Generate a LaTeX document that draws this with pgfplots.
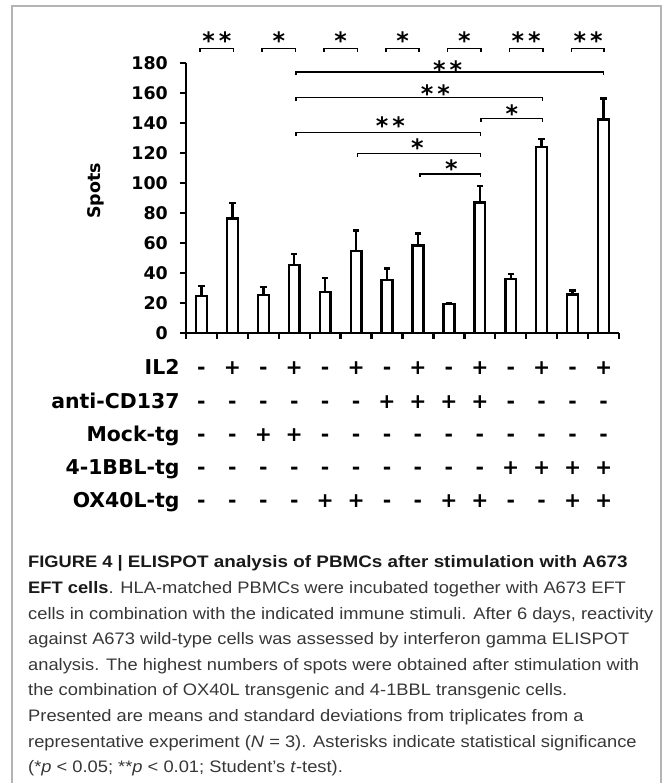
\documentclass[border=0pt]{standalone}
\usepackage{graphicx}
\usepackage{pgfplots}
\pgfplotsset{compat=1.18}
\usepackage{fontspec}
\setmainfont{Liberation Sans}
\newfontfamily\dv{DejaVu Sans}
\newfontfamily\capfont[FakeStretch=1.1]{Liberation Sans}
\definecolor{framegray}{RGB}{180,180,180}
\definecolor{captxt}{RGB}{55,55,55}
\definecolor{capbold}{RGB}{25,25,25}
\newcommand{\tickfont}{\dv\bfseries\fontsize{17.5}{20}\selectfont}
\newcommand{\rowfont}{\dv\bfseries\fontsize{20.5}{24}\selectfont}
\newcommand{\starfont}{\dv\bfseries\fontsize{24}{26}\selectfont}
\newcommand{\cf}{\capfont\fontsize{16.7}{25.6}\selectfont\color{captxt}}
\newcommand{\cb}[1]{{\bfseries\color{capbold}#1}}
\newcommand{\br}[4]{\addplot[black, line width=1.5bp, no marks, forget plot] coordinates {(#1,#4) (#1,#3) (#2,#3) (#2,#4)};}
\newcommand{\st}[3]{\node[font=\starfont, anchor=base, yshift=-13.1bp] at (axis cs:#1,#2) {#3};}

\begin{document}
\begin{tikzpicture}[x=1bp,y=1bp]
\path[use as bounding box] (0,0) rectangle (664,783);
\draw[framegray, line width=1.5bp] (12,-5) -- (12,777) -- (661,777) -- (661,-5);
\begin{axis}[
  at={(186bp,450bp)}, anchor=south west,
  scale only axis, width=433bp, height=270bp,
  xmin=-0.5, xmax=13.5, ymin=0, ymax=180,
  axis x line=bottom, axis y line=left,
  axis line style={-, line width=2.8bp, black},
  every tick/.style={black, line width=2.4bp},
  tick align=outside,
  major tick length=6bp,
  xtick={-0.5,0.5,...,13.5}, xticklabels={},
  ytick={0,20,...,180},
  /pgf/number format/assume math mode=true,
  yticklabel style={font=\tickfont, anchor=east, inner sep=0pt, xshift=-12bp},
  clip=false,
]
\addplot[ybar, bar width=10.8bp, fill=white, draw=black, line width=2.4bp,
  error bars/.cd, y dir=plus, y explicit,
  error bar style={line width=2.4bp, black},
  error mark options={rotate=90, mark size=3.2bp, line width=2.4bp, black}]
  table[x=x, y=y, y error=e] {
x y e
0 24.7 6.8
1 76.2 10.4
2 25.3 5.5
3 45.4 7.2
4 27.5 9.3
5 54.6 13.7
6 35.2 7.8
7 58.4 7.9
8 19.2 0.8
9 87.0 10.8
10 35.9 3.3
11 124.0 5.3
12 25.6 2.6
13 142.4 14.0
};
% top brackets
\br{-0.04}{1.04}{189.6}{187.4}
\br{1.96}{3.04}{189.6}{187.4}
\br{3.96}{5.04}{189.6}{187.4}
\br{5.96}{7.04}{189.6}{187.4}
\br{7.96}{9.04}{189.6}{187.4}
\br{9.96}{11.04}{189.6}{187.4}
\br{11.96}{13.02}{189.6}{187.4}
\st{0.5}{197.8}{*\kern4bp*}
\st{2.5}{197.8}{*}
\st{4.5}{197.8}{*}
\st{6.5}{197.8}{*}
\st{8.5}{197.8}{*}
\st{10.5}{197.8}{*\kern4bp*}
\st{12.5}{197.8}{*\kern4bp*}
% long brackets
\br{3.05}{13.0}{174.0}{171.8}
\st{7.96}{178.2}{*\kern4bp*}
\br{3.05}{11.02}{156.9}{154.7}
\st{7.56}{162.7}{*\kern4bp*}
\br{9.03}{11.02}{142.9}{140.7}
\st{10.04}{149.3}{*}
\br{3.05}{9.02}{133.8}{131.6}
\st{6.11}{141.1}{*\kern4bp*}
\br{5.05}{9.02}{119.6}{117.4}
\st{6.98}{126.2}{*}
\br{7.07}{9.02}{106.0}{103.8}
\st{8.08}{112.7}{*}
\end{axis}
% y label
\node[font=\tickfont, rotate=90, anchor=center] at (95.5,592) {Spots};
% row labels
\node[font=\rowfont, anchor=base east] at (183,408.5) {IL2};
\node[font=\rowfont, anchor=base east] at (183,374.5) {anti-CD137};
\node[font=\rowfont, anchor=base east] at (183,341.5) {Mock-tg};
\node[font=\rowfont, anchor=base east] at (183,308.5) {4-1BBL-tg};
\node[font=\rowfont, anchor=base east] at (183,275.5) {OX40L-tg};
\foreach \s [count=\i from 0] in {-,+,-,+,-,+,-,+,-,+,-,+,-,+}
  \node[font=\rowfont, anchor=base] at ({201.46+30.93*\i},408.5) {\s};
\foreach \s [count=\i from 0] in {-,-,-,-,-,-,+,+,+,+,-,-,-,-}
  \node[font=\rowfont, anchor=base] at ({201.46+30.93*\i},374.5) {\s};
\foreach \s [count=\i from 0] in {-,-,+,+,-,-,-,-,-,-,-,-,-,-}
  \node[font=\rowfont, anchor=base] at ({201.46+30.93*\i},341.5) {\s};
\foreach \s [count=\i from 0] in {-,-,-,-,-,-,-,-,-,-,+,+,+,+}
  \node[font=\rowfont, anchor=base] at ({201.46+30.93*\i},308.5) {\s};
\foreach \s [count=\i from 0] in {-,-,-,-,+,+,-,-,+,+,-,-,+,+}
  \node[font=\rowfont, anchor=base] at ({201.46+30.93*\i},275.5) {\s};
% caption
\node[anchor=base west, inner sep=0pt, font=\cf] at (28,215.0) {\cb{FIGURE 4 | \scalebox{1.03}[1]{ELISPOT analysis of PBMCs after stimulation with A673}}};
\node[anchor=base west, inner sep=0pt, font=\cf] at (28,189.4) {\cb{EFT cells}. HLA-matched PBMCs were incubated together with A673 EFT};
\node[anchor=base west, inner sep=0pt, font=\cf] at (28,163.8) {cells in combination with the indicated immune stimuli. After 6 days, reactivity};
\node[anchor=base west, inner sep=0pt, font=\cf] at (28,138.2) {against A673 wild-type cells was assessed by interferon gamma ELISPOT};
\node[anchor=base west, inner sep=0pt, font=\cf] at (28,112.6) {analysis. The highest numbers of spots were obtained after stimulation with};
\node[anchor=base west, inner sep=0pt, font=\cf] at (28,87.0) {the combination of OX40L transgenic and 4-1BBL transgenic cells.};
\node[anchor=base west, inner sep=0pt, font=\cf] at (28,61.4) {Presented are means and standard deviations from triplicates from a};
\node[anchor=base west, inner sep=0pt, font=\cf] at (28,35.8) {representative experiment (\textit{N} = 3). Asterisks indicate statistical significance};
\node[anchor=base west, inner sep=0pt, font=\cf] at (28,10.2) {(*\textit{p} < 0.05; **\textit{p} < 0.01; Student’s \textit{t}-test).};
\end{tikzpicture}
\end{document}
